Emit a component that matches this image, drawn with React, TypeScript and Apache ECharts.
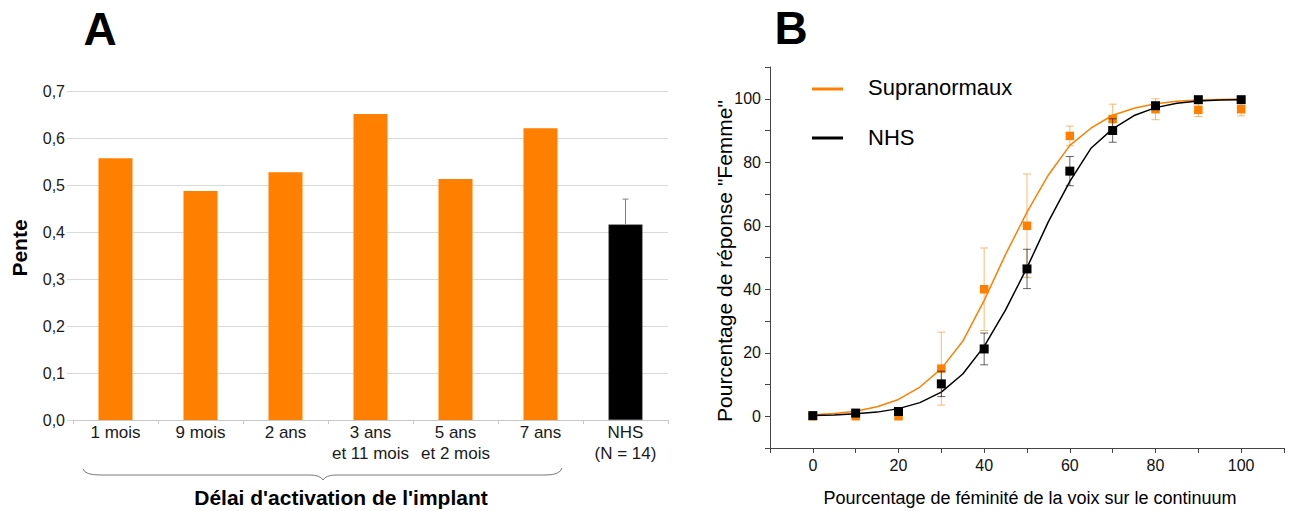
import React, { useEffect, useRef } from 'react';
import * as echarts from 'echarts';

// ---------- Panel A data ----------
const barCategories = ['1 mois', '9 mois', '2 ans', '3 ans\net 11 mois', '5 ans\net 2 mois', '7 ans', 'NHS\n(N = 14)'];
const barValues = [0.557, 0.487, 0.527, 0.651, 0.513, 0.621, 0.416];
const barIsControl = [false, false, false, false, false, false, true];
const nhsBarErrorTop = 0.47;

// ---------- Panel B data ----------
const continuumSteps = [0, 10, 20, 30, 40, 50, 60, 70, 80, 90, 100];
const supraMeans = [0, 0, 0, 15, 40, 60, 88.3, 93.6, 96.7, 96.5, 96.7];
const supraErrors = [0, 0, 0, 11.5, 13, 16.3, 3.1, 4.7, 3.3, 2.1, 2.1];
const nhsMeans = [0.2, 1.0, 1.5, 10.2, 21.2, 46.4, 77.2, 90.0, 97.8, 99.7, 99.7];
const nhsErrors = [0, 0, 0, 4.0, 5.0, 6.2, 4.6, 3.7, 1.0, 0.5, 0.5];

const fitX = [0, 5, 10, 15, 20, 25, 30, 35, 40, 45, 50, 55, 60, 65, 70, 75, 80, 85, 90, 95, 100];
const supraFit = [0.5, 0.9, 1.6, 3.0, 5.3, 9.2, 15.0, 23.6, 36.5, 51.0, 64.3, 76.0, 85.3, 90.8, 94.8, 97.0, 98.4, 99.2, 99.6, 99.8, 99.9];
const nhsFit = [0.2, 0.4, 0.8, 1.3, 2.4, 4.3, 7.6, 13.3, 22.0, 33.5, 46.8, 61.3, 74.0, 84.5, 90.5, 94.7, 97.2, 98.6, 99.3, 99.6, 99.7];

const ORANGE = '#ff8000';
const FONT = '"Liberation Sans", Arial, sans-serif';

export default function App() {
  const ref = useRef<HTMLDivElement>(null);

  useEffect(() => {
    const bracePath =
      'M83,469 Q85,475 100,475 L310,475 Q320,475 323,480 Q326,475 336,475 L546,475 Q560,475 562,468';
    try {
      echarts.graphic.registerShape('brace', echarts.graphic.extendPath(bracePath, {}));
    } catch (e) {
      /* already registered */
    }
    const chart = echarts.init(ref.current as HTMLDivElement, null, { renderer: 'svg' });

    const errorRender = (color: string, half: number) => (params: any, api: any) => {
      const x = api.value(0);
      const y = api.value(1);
      const e = api.value(2);
      const top = api.coord([x, y + e]);
      const bot = api.coord([x, y - e]);
      const st = { stroke: color, lineWidth: 1 };
      return {
        type: 'group',
        children: [
          { type: 'line', shape: { x1: top[0], y1: top[1], x2: bot[0], y2: bot[1] }, style: st },
          { type: 'line', shape: { x1: top[0] - half, y1: top[1], x2: top[0] + half, y2: top[1] }, style: st },
          { type: 'line', shape: { x1: bot[0] - half, y1: bot[1], x2: bot[0] + half, y2: bot[1] }, style: st },
        ],
      };
    };

    const barErrRender = (params: any, api: any) => {
      const x = api.value(0);
      const base = api.coord([x, api.value(1)]);
      const top = api.coord([x, api.value(2)]);
      const st = { stroke: '#808080', lineWidth: 1 };
      return {
        type: 'group',
        children: [
          { type: 'line', shape: { x1: base[0], y1: base[1], x2: top[0], y2: top[1] }, style: st },
          { type: 'line', shape: { x1: top[0] - 3, y1: top[1], x2: top[0] + 3, y2: top[1] }, style: st },
        ],
      };
    };

    const bLabel = (v: number) => (v >= 0 && v <= 100 && v % 20 === 0 ? String(v) : '');

    const supraErrData = continuumSteps
      .map((x, i) => [x, supraMeans[i], supraErrors[i]])
      .filter((d) => d[2] > 0);
    const nhsErrData = continuumSteps
      .map((x, i) => [x, nhsMeans[i], nhsErrors[i]])
      .filter((d) => d[2] > 0);

    const option: any = {
      animation: false,
      backgroundColor: '#ffffff',
      textStyle: { fontFamily: FONT },
      grid: [
        { left: 73, top: 91, width: 595, height: 329 },
        { left: 770, top: 67, width: 514, height: 381 },
      ],
      xAxis: [
        {
          type: 'category',
          gridIndex: 0,
          data: barCategories,
          axisLine: { lineStyle: { color: '#c8c8c8', width: 1 } },
          axisTick: { show: true, alignWithLabel: false, length: 4, lineStyle: { color: '#c8c8c8' } },
          axisLabel: { interval: 0, fontSize: 17, color: '#1a1a1a', lineHeight: 21, margin: 2, fontFamily: FONT },
        },
        {
          type: 'value',
          gridIndex: 1,
          min: -10,
          max: 110,
          interval: 10,
          axisLine: { show: true, onZero: false, lineStyle: { color: '#444', width: 1 } },
          axisTick: { show: true, length: 5, lineStyle: { color: '#444' } },
          axisLabel: { formatter: bLabel, fontSize: 16, color: '#111', margin: 9, fontFamily: FONT },
          splitLine: { show: false },
        },
      ],
      yAxis: [
        {
          type: 'value',
          gridIndex: 0,
          min: 0,
          max: 0.7,
          interval: 0.1,
          axisLine: { show: false },
          axisTick: { show: true, length: 6, lineStyle: { color: '#d9d9d9' } },
          axisLabel: {
            formatter: (v: number) => v.toFixed(1).replace('.', ','),
            fontSize: 16,
            color: '#1a1a1a',
            margin: 8,
            fontFamily: FONT,
          },
          splitLine: { show: true, lineStyle: { color: '#d9d9d9', width: 1 } },
        },
        {
          type: 'value',
          gridIndex: 1,
          min: -10,
          max: 110,
          interval: 10,
          axisLine: { show: true, onZero: false, lineStyle: { color: '#444', width: 1 } },
          axisTick: { show: true, length: 5, lineStyle: { color: '#444' } },
          axisLabel: { formatter: bLabel, fontSize: 16, color: '#111', margin: 9, fontFamily: FONT },
          splitLine: { show: false },
        },
      ],
      series: [
        {
          type: 'bar',
          xAxisIndex: 0,
          yAxisIndex: 0,
          barWidth: '40%',
          data: barValues.map((v, i) => ({
            value: v,
            itemStyle: barIsControl[i]
              ? { color: '#000000', borderColor: '#555', borderWidth: 0.5 }
              : { color: ORANGE },
          })),
          z: 2,
        },
        {
          type: 'custom',
          xAxisIndex: 0,
          yAxisIndex: 0,
          renderItem: barErrRender,
          data: [[6, barValues[6], nhsBarErrorTop]],
          z: 3,
        },
        {
          type: 'line',
          xAxisIndex: 1,
          yAxisIndex: 1,
          data: fitX.map((x, i) => [x, supraFit[i]]),
          showSymbol: false,
          lineStyle: { color: ORANGE, width: 1.5 },
          itemStyle: { color: ORANGE },
          z: 2,
        },
        {
          type: 'line',
          xAxisIndex: 1,
          yAxisIndex: 1,
          data: fitX.map((x, i) => [x, nhsFit[i]]),
          showSymbol: false,
          lineStyle: { color: '#000', width: 1.5 },
          itemStyle: { color: '#000' },
          z: 2,
        },
        {
          type: 'custom',
          xAxisIndex: 1,
          yAxisIndex: 1,
          renderItem: errorRender('rgba(255,128,0,0.55)', 4),
          data: supraErrData,
          z: 3,
        },
        {
          type: 'scatter',
          xAxisIndex: 1,
          yAxisIndex: 1,
          symbol: 'rect',
          symbolSize: 8.5,
          data: continuumSteps.map((x, i) => [x, supraMeans[i]]),
          itemStyle: { color: ORANGE, opacity: 1 },
          z: 4,
        },
        {
          type: 'custom',
          xAxisIndex: 1,
          yAxisIndex: 1,
          renderItem: errorRender('rgba(0,0,0,0.6)', 4),
          data: nhsErrData,
          z: 5,
        },
        {
          type: 'scatter',
          xAxisIndex: 1,
          yAxisIndex: 1,
          symbol: 'rect',
          symbolSize: 9,
          data: continuumSteps.map((x, i) => [x, nhsMeans[i]]),
          itemStyle: { color: '#000', opacity: 1 },
          z: 6,
        },
      ],
      graphic: [
        {
          type: 'text',
          x: 100,
          y: 29,
          style: { text: 'A', font: `bold 46px ${FONT}`, fill: '#000', align: 'center', verticalAlign: 'middle' },
        },
        {
          type: 'text',
          x: 791,
          y: 28,
          style: { text: 'B', font: `bold 46px ${FONT}`, fill: '#000', align: 'center', verticalAlign: 'middle' },
        },
        {
          type: 'text',
          x: 19,
          y: 248,
          rotation: Math.PI / 2,
          style: { text: 'Pente', font: `bold 21px ${FONT}`, fill: '#000', align: 'center', verticalAlign: 'middle' },
        },
        {
          type: 'brace',
          x: 0,
          y: 0,
          style: { stroke: '#7a7a7a', fill: 'none', lineWidth: 1 },
        },
        {
          type: 'text',
          x: 341,
          y: 497,
          style: {
            text: "Délai d'activation de l'implant",
            font: `bold 21px ${FONT}`,
            fill: '#000',
            align: 'center',
            verticalAlign: 'middle',
          },
        },
        {
          type: 'text',
          x: 724,
          y: 261,
          rotation: Math.PI / 2,
          style: {
            text: 'Pourcentage de réponse "Femme"',
            font: `21px ${FONT}`,
            fill: '#000',
            align: 'center',
            verticalAlign: 'middle',
          },
        },
        {
          type: 'text',
          x: 1030,
          y: 498,
          style: {
            text: 'Pourcentage de féminité de la voix sur le continuum',
            font: `18px ${FONT}`,
            fill: '#000',
            align: 'center',
            verticalAlign: 'middle',
          },
        },
        {
          type: 'line',
          shape: { x1: 812, y1: 89, x2: 843, y2: 89 },
          style: { stroke: ORANGE, lineWidth: 3 },
        },
        {
          type: 'text',
          x: 868,
          y: 87,
          style: { text: 'Supranormaux', font: `22px ${FONT}`, fill: '#000', align: 'left', verticalAlign: 'middle' },
        },
        {
          type: 'line',
          shape: { x1: 812, y1: 138, x2: 843, y2: 138 },
          style: { stroke: '#000', lineWidth: 3 },
        },
        {
          type: 'text',
          x: 868,
          y: 137,
          style: { text: 'NHS', font: `22px ${FONT}`, fill: '#000', align: 'left', verticalAlign: 'middle' },
        },
      ],
    };

    chart.setOption(option);
    return () => {
      chart.dispose();
    };
  }, []);

  return (
    <div
      ref={ref}
      style={{ position: 'absolute', left: 0, top: 0, width: 1290, height: 511, background: '#fff' }}
    />
  );
}
